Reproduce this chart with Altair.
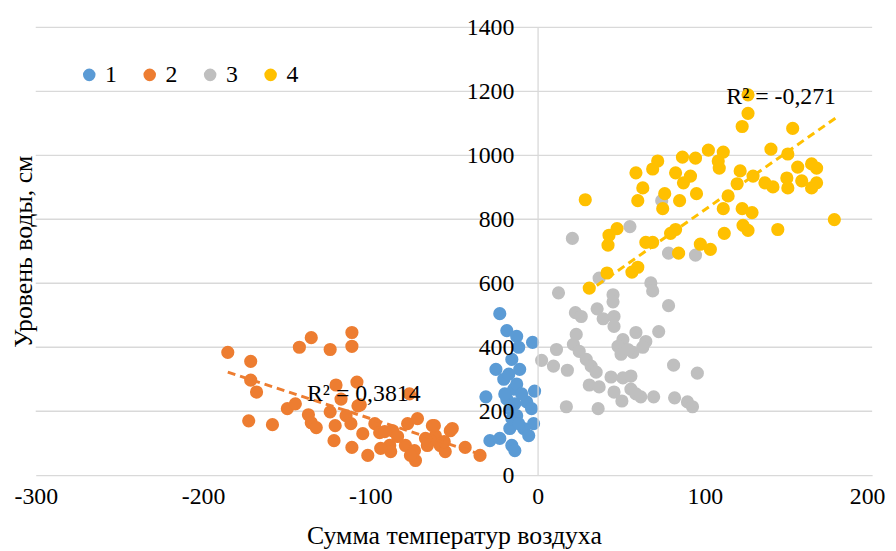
import altair as alt
import pandas as pd

FONT = "Liberation Serif"

groups = ["1", "2", "3", "4"]
colors = ["#5B9BD5", "#ED7D31", "#BFBFBF", "#FFC000"]

x_ticks = [-300, -200, -100, 0, 100, 200]
y_ticks = [0, 200, 400, 600, 800, 1000, 1200, 1400]

g1_x = [-22.6, -18.4, -12.5, -3.0, -11.3, -24.9, -20.2, -10.7, -1.8, -30.9, -18.4, -6.5, -3.6, -2.4,
        -28.5, -22.6, -15.4, -13.6, -16.6, -8.3, -5.3, -14.2, -16.6, -12.5, -15.4, -17.2, -12.5, -9.5,
        -15.4, -11.3, -19.6, -13.6]
g1_y = [505, 452, 434, 415, 400, 331, 300, 331, 263, 245, 238, 229, 208, 161,
        108, 115, 93, 77, 146, 146, 124, 269, 208, 186, 362, 316, 285, 254,
        177, 161, 254, 223]

g2_x = [-185.2, -171.5, -171.5, -168, -172.7, -158.5, -142.4, -135.3, -124, -111, -111, -149.6,
        -144.8, -137, -135.3, -132.3, -120.5, -108, -117.5, -124, -121, -121.7, -114.5, -111.6,
        -111, -106, -104.5, -101.5, -97.3, -94.4, -86.6, -88.4, -76.6, -77.7, -71.8, -79, -73.6,
        -73, -65.9, -62.9, -61.1, -58.2, -52.2, -55.2, -43.3, -34.4, -83.7, -64.1, -91.4, -87.8,
        -93.8, -67, -55.8, -51, -61.7, -107.4, -76]
g2_y = [384, 356, 297, 260, 170, 158, 400, 430, 393, 446, 403, 208,
        223, 189, 164, 149, 282, 291, 238, 198, 155, 108, 186, 161,
        87, 220, 130, 62, 161, 133, 139, 93, 254, 161, 177, 93, 77,
        46, 93, 155, 124, 93, 139, 74, 87, 62, 121, 108, 136, 74,
        84, 115, 105, 146, 155, 217, 62]

g3_x = [20.8, 55.2, 12.5, 45.1, 45.1, 35.6, 22.6, 26.1, 39.2, 45.7, 45.7, 67.7, 68.8, 78.3, 72.4,
        58.8, 64.7, 51, 48.1, 49.9, 23.1, 21.4, 24.9, 11.3, 2.4, 9.5, 17.8, 29.1, 32, 35, 30.9,
        36.8, 43.9, 51, 55.8, 45.7, 50.4, 55.8, 58.8, 61.7, 69.4, 81.3, 95.5, 81.9, 17.2, 36.2,
        89.6, 92.6, 78.3, 94.4, 57, 54, 62.9, 74.2, 36.8]
g3_y = [740, 777, 570, 564, 542, 520, 508, 496, 489, 496, 465, 601, 576, 530, 449,
        446, 418, 424, 403, 378, 440, 409, 387, 393, 359, 341, 328, 362, 341, 322, 282,
        276, 307, 304, 310, 260, 232, 269, 254, 245, 245, 344, 319, 242, 214, 208,
        229, 214, 694, 688, 384, 393, 400, 858, 616]

g4_x = [125.8, 125.8, 122.3, 152.5, 28.5, 58.8, 62.9, 59.9, 68.8, 71.8, 86.6, 94.4, 102.1, 111,
        108, 108.6, 121.1, 119.3, 128.8, 135.9, 140.7, 149.6, 139.5, 155.5, 163.8, 166.8, 166.8,
        163.8, 149.6, 157.9, 149, 82.5, 87.2, 91.4, 95, 84.9, 76, 74.8, 113.9, 111, 122.3, 128.2,
        122.8, 125.8, 143.6, 177.4, 111.6, 84.3, 97.3, 103.3, 82.5, 79.5, 64.7, 68.8, 47.5, 42.7,
        42.1, 59.9, 56.4, 41.5, 30.9]
g4_y = [1189, 1131, 1090, 1084, 861, 945, 898, 858, 957, 982, 994, 991, 1016, 1010,
        982, 960, 951, 911, 935, 914, 901, 1004, 1019, 963, 973, 960, 914,
        898, 898, 920, 929, 945, 914, 935, 880, 858, 880, 833, 873, 833, 833, 821,
        781, 765, 768, 799, 756, 694, 722, 706, 768, 756, 728, 728, 771, 750,
        719, 650, 635, 632, 585]

trend2_x = [-185.2, -34]
trend2_y = [322, 65]
trend4_x = [29.1, 178.6]
trend4_y = [570, 1118]

label_text = ["R² = 0,3814", "R² = -0,271"]
label_x = [-103.9, 145.6]
label_y = [254, 1183]

rows = []
for g, xs, ys in zip(groups, [g1_x, g2_x, g3_x, g4_x], [g1_y, g2_y, g3_y, g4_y]):
    for x, y in zip(xs, ys):
        rows.append({"g": g, "x": x, "y": y})
df = pd.DataFrame(rows)
df["o"] = range(len(df))

W, H = 844, 452
xscale = alt.Scale(domain=[-300, 200], nice=False, zero=False)
yscale = alt.Scale(domain=[0, 1400], nice=False, zero=False)

x_axis = alt.Axis(
    title="Сумма температур воздуха", values=x_ticks, labelExpr="'' + datum.value",
    grid=False, ticks=False, domainColor="#D9D9D9", domainWidth=1.3,
    labelFontSize=24, labelFont=FONT, labelColor="#000", labelPadding=10,
    labelFlush=False, labelOverlap=False,
    labelOffset={"condition": {"test": "datum.value == 200", "value": -5}, "value": 0},
    titleFont=FONT, titleFontSize=26, titleFontWeight="normal", titleColor="#000",
    titlePadding=14)
y_axis = alt.Axis(
    title="Уровень воды, см", values=y_ticks, labelExpr="'' + datum.value",
    grid=False, ticks=False, domainColor="#D9D9D9", domainWidth=1.3,
    offset=-506.4, zindex=1,
    labelFontSize=24, labelFont=FONT, labelColor="#000", labelPadding=24,
    labelFlush=False, labelOverlap=False,
    titleFont=FONT, titleFontSize=26, titleFontWeight="normal", titleColor="#000",
    titleX=-511, titleBaseline="alphabetic")

def X(f):
    return alt.X(f, scale=xscale, axis=x_axis)

def Y(f):
    return alt.Y(f, scale=yscale, axis=y_axis)

grid = alt.Chart(pd.DataFrame({"v": y_ticks[1:]})).mark_rule(
    color="#D9D9D9", strokeWidth=1.3
).encode(y=Y("v:Q"))

points = alt.Chart(df).mark_circle(size=177, opacity=1).encode(
    x=X("x:Q"),
    y=Y("y:Q"),
    color=alt.Color("g:N", scale=alt.Scale(domain=groups, range=colors), legend=alt.Legend(
        orient="none", legendX=42, legendY=36, direction="horizontal", title=None,
        symbolType="circle", symbolSize=160, symbolStrokeWidth=0, symbolOpacity=1,
        labelFontSize=24, labelFont=FONT, labelColor="#000", columnPadding=21, labelOffset=4)),
    order=alt.Order("o:Q"),
)

t2 = alt.Chart(pd.DataFrame({"x": trend2_x, "y": trend2_y})).mark_line(
    color="#ED7D31", strokeDash=[8, 5], strokeWidth=3
).encode(x=X("x:Q"), y=Y("y:Q"))

t4 = alt.Chart(pd.DataFrame({"x": trend4_x, "y": trend4_y})).mark_line(
    color="#FFC000", strokeDash=[8, 5], strokeWidth=3
).encode(x=X("x:Q"), y=Y("y:Q"))

labels = alt.Chart(pd.DataFrame({"x": label_x, "y": label_y, "t": label_text})).mark_text(
    font=FONT, fontSize=24, color="#000", align="center", baseline="middle"
).encode(x=X("x:Q"), y=Y("y:Q"), text="t:N")

chart = alt.layer(grid, points, t2, t4, labels).properties(
    width=W, height=H,
    autosize=alt.AutoSizeParams(type="none"),
    padding={"left": 28, "top": 17, "right": 16, "bottom": 74},
).configure_view(stroke=None)

chart.save("out.html", embed_options={"renderer": "svg", "actions": False})
